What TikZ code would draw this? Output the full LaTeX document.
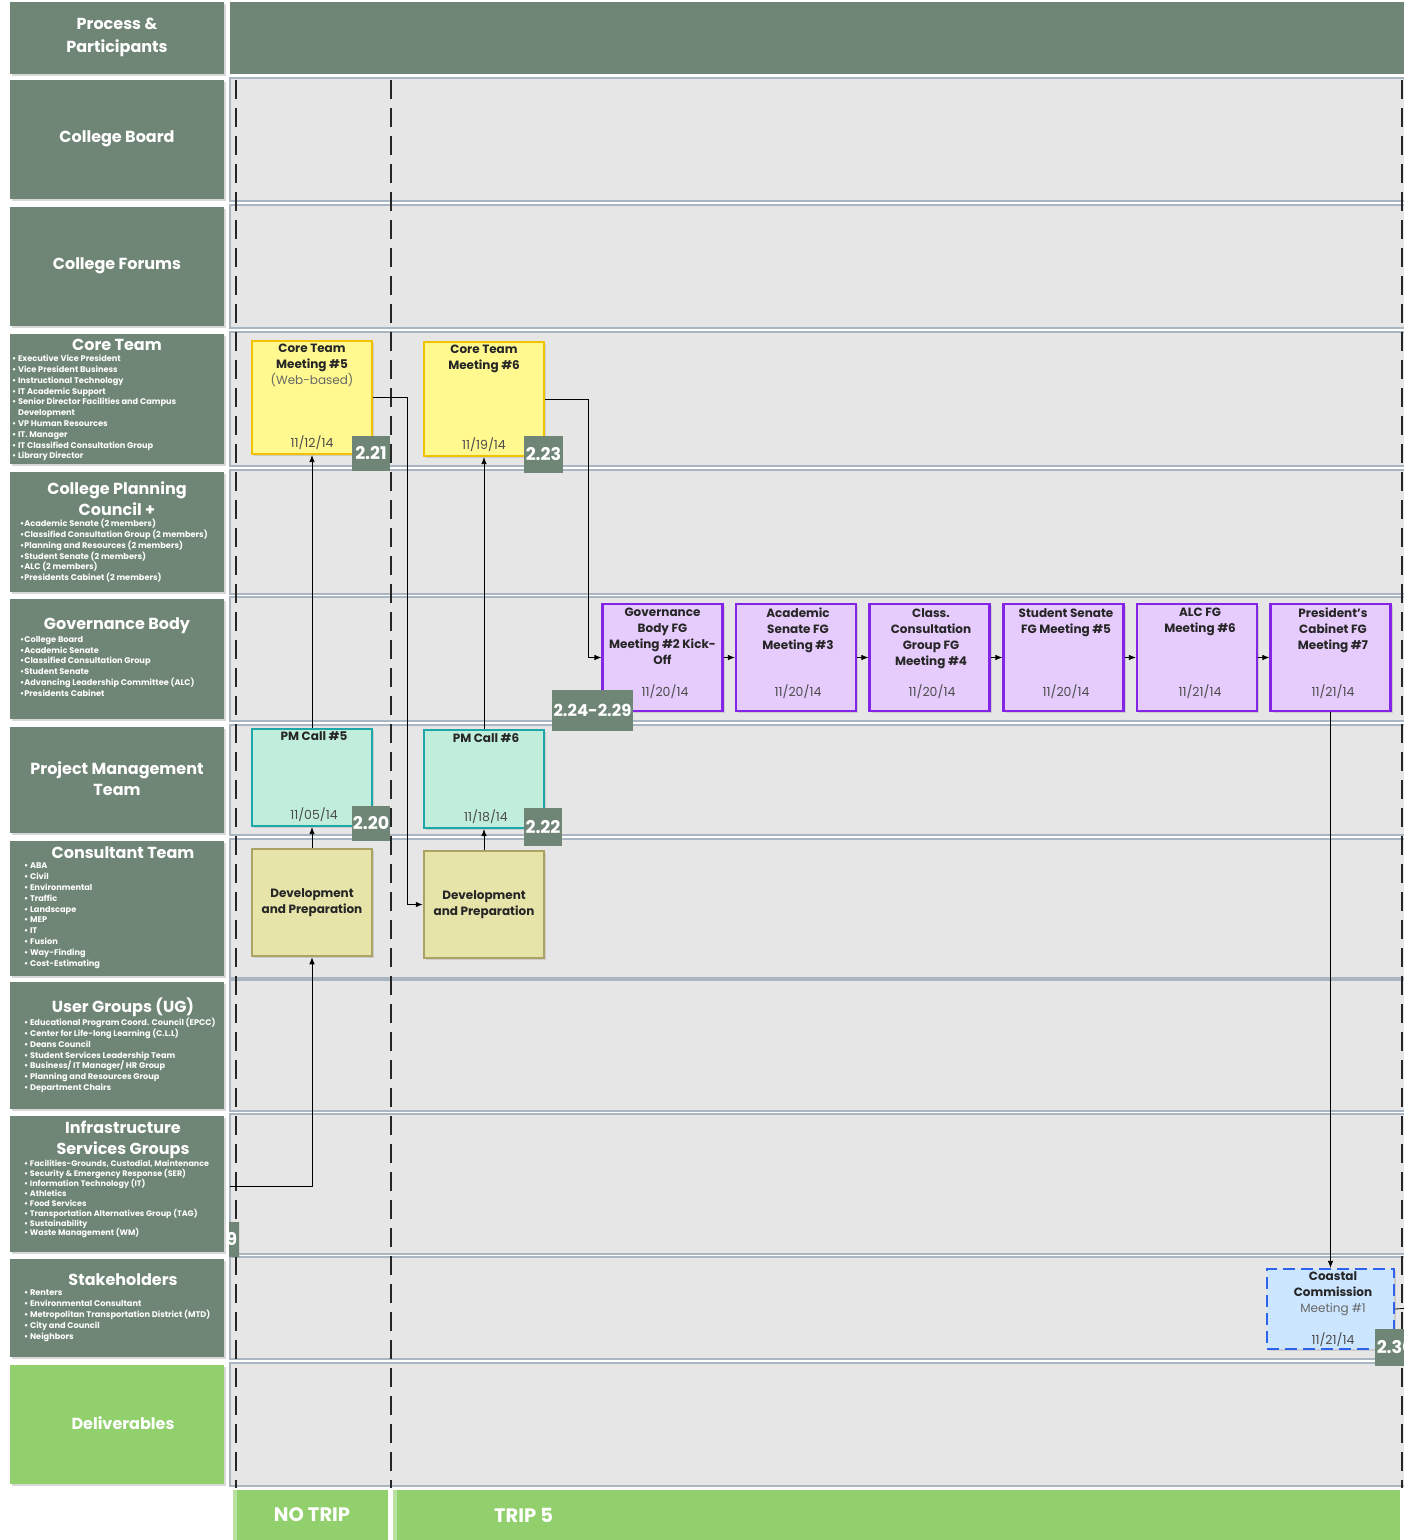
\documentclass[tikz,border=0pt]{standalone}
\usepackage{fontspec}
\setmainfont{Poppins}
\usetikzlibrary{arrows.meta,calc,shadows}
\definecolor{hdr}{HTML}{6F8575}
\definecolor{lanef}{HTML}{E6E6E6}
\definecolor{laneb}{HTML}{A9B5C1}
\definecolor{delg}{HTML}{92D06E}
\definecolor{delgl}{HTML}{B8E2A0}
\definecolor{yfill}{HTML}{FFF98F}
\definecolor{yline}{HTML}{F2C200}
\definecolor{pfill}{HTML}{E6CCFC}
\definecolor{pline}{HTML}{8424E6}
\definecolor{tfill}{HTML}{C1EEDC}
\definecolor{tline}{HTML}{1EA7A7}
\definecolor{kfill}{HTML}{E6E4A8}
\definecolor{kline}{HTML}{ABA264}
\definecolor{bfill}{HTML}{CCE6FF}
\definecolor{bline}{HTML}{2F63EE}
\tikzset{
 lbl/.style={fill=hdr, draw=none, minimum width=214pt, inner sep=0pt, drop shadow={shadow xshift=2pt,shadow yshift=-2pt,opacity=0.3}},
 ttl/.style={text=white, font=\fontsize{16}{21}\selectfont\bfseries, align=center, inner sep=0pt},
 lst/.style={text=white, font=\fontsize{8.2}{10.8}\selectfont\bfseries, align=left, anchor=north west, inner sep=0pt},
 badge/.style={fill=hdr, text=white, font=\fontsize{17.5}{18}\selectfont\bfseries, inner sep=0pt},
 mbox/.style={minimum width=120pt, inner sep=0pt, line width=2.2pt, drop shadow={shadow xshift=2pt,shadow yshift=-2pt,opacity=0.25}},
 ybox/.style={mbox, fill=yfill, draw=yline},
 pbox/.style={mbox, fill=pfill, draw=pline, minimum height=107pt},
 tbox/.style={mbox, fill=tfill, draw=tline},
 kbox/.style={mbox, fill=kfill, draw=kline, line width=2.5pt},
 cbox/.style={mbox, fill=bfill, draw=bline, dash pattern=on 12pt off 6pt},
 btitle/.style={font=\fontsize{12}{16}\selectfont\bfseries, align=center, anchor=north, inner sep=0pt, text=black!85},
 bdate/.style={font=\fontsize{12.5}{14}\selectfont, anchor=center, inner sep=0pt, text=black!70},
 conn/.style={draw=black, line width=0.8pt, -{Latex[length=7pt,width=5.5pt]}},
 lane/.style={fill=lanef, draw=laneb, line width=1.5pt},
 vdash/.style={draw=black!85, line width=1.5pt, dash pattern=on 19pt off 9pt},
}
\begin{document}
\begin{tikzpicture}[x=1pt,y=-1pt]
\useasboundingbox (0,0) rectangle (1404,1540);
\clip (0,0) rectangle (1404,1540);
\fill[white] (0,0) rectangle (1404,1540);
% header lane
\fill[hdr] (230,2) rectangle (1410,74);
% lanes
\foreach \t/\b in {80/199,207/326,334/464,472/592,599/719,727/833,841/976,982/1109,1116/1252,1259/1357,1365/1484}{
  \draw[lane] (230,\t-2) rectangle (1410,\b+2);
}
% dashed verticals
\draw[vdash] (236,80) -- (236,1488);
\draw[vdash] (391,80) -- (391,1488);
\draw[vdash] (1402,80) -- (1402,1488);
% partial badge from previous sheet
\begin{scope}
\clip (229,1215) rectangle (239,1262);
\node[badge, minimum width=46pt, minimum height=35pt] (b219) at (221,1239.5) {2.19};
\end{scope}
% left labels
\node[lbl, minimum height=72pt] (Lhdr) at (117,38) {};
\node[ttl, font=\fontsize{16}{23}\selectfont\bfseries] (Lhdrt) at (117,37) {Process \&\\Participants};
\node[lbl, minimum height=119pt] (Lcb) at (117,139.5) {};
\node[ttl] (Lcbt) at (117,139) {College Board};
\node[lbl, minimum height=119pt] (Lcf) at (117,266.5) {};
\node[ttl] (Lcft) at (117,266) {College Forums};
\node[lbl, minimum height=130pt] (Lct) at (117,399) {};
\node[ttl] (Lctt) at (117,345) {Core Team};
\node[lst] (Lctl) at (12,355) {• Executive Vice President\\• Vice President Business\\• Instructional Technology\\• IT Academic Support\\• Senior Director Facilities and Campus\\\phantom{• }Development\\• VP Human Resources\\• IT. Manager\\• IT Classified Consultation Group\\• Library Director};
\node[lbl, minimum height=120pt] (Lcpc) at (117,532) {};
\node[ttl] (Lcpct) at (117,498.5) {College Planning\\Council +};
\node[lst] (Lcpcl) at (20,519) {•Academic Senate (2 members)\\•Classified Consultation Group (2 members)\\•Planning and Resources (2 members)\\•Student Senate (2 members)\\•ALC (2 members)\\•Presidents Cabinet (2 members)};
\node[lbl, minimum height=120pt] (Lgb) at (117,659) {};
\node[ttl] (Lgbt) at (117,626) {Governance Body};
\node[lst] (Lgbl) at (20,636) {•College Board\\•Academic Senate\\•Classified Consultation Group\\•Student Senate\\•Advancing Leadership Committee (ALC)\\•Presidents Cabinet};
\node[lbl, minimum height=106pt] (Lpm) at (117,780) {};
\node[ttl] (Lpmt) at (117,778.5) {Project Management\\Team};
\node[lbl, minimum height=135pt] (Lcon) at (117,908.5) {};
\node[ttl] (Lcont) at (123,853) {Consultant Team};
\node[lst] (Lconl) at (24,863) {• ABA\\• Civil\\• Environmental\\• Traffic\\• Landscape\\• MEP\\• IT\\• Fusion\\• Way-Finding\\• Cost-Estimating};
\node[lbl, minimum height=127pt] (Lug) at (117,1045.5) {};
\node[ttl] (Lugt) at (123,1007) {User Groups (UG)};
\node[lst] (Lugl) at (24,1018) {• Educational Program Coord. Council (EPCC)\\• Center for Life-long Learning (C.L.L)\\• Deans Council\\• Student Services Leadership Team\\• Business/ IT Manager/ HR Group\\• Planning and Resources Group\\• Department Chairs};
\node[lbl, minimum height=136pt] (Linf) at (117,1184) {};
\node[ttl] (Linft) at (123,1139.5) {Infrastructure\\Services Groups};
\node[lst, font=\fontsize{8}{9.9}\selectfont\bfseries] (Linfl) at (24,1160) {• Facilities-Grounds, Custodial, Maintenance\\• Security \& Emergency Response (SER)\\• Information Technology (IT)\\• Athletics\\• Food Services\\• Transportation Alternatives Group (TAG)\\• Sustainability\\• Waste Management (WM)};
\node[lbl, minimum height=98pt] (Lstk) at (117,1308) {};
\node[ttl] (Lstkt) at (123,1280) {Stakeholders};
\node[lst] (Lstkl) at (24,1290) {• Renters\\• Environmental Consultant\\• Metropolitan Transportation District (MTD)\\• City and Council\\• Neighbors};
\node[lbl, fill=delg, minimum height=119pt] (Ldel) at (117,1424.5) {};
\node[ttl] (Ldelt) at (123,1423) {Deliverables};
% bottom trip bars
\fill[delg] (233,1490) rectangle (388,1545);
\fill[delgl] (233,1490) rectangle (237,1545);
\fill[delg] (393,1490) rectangle (1400,1545);
\fill[delgl] (393,1490) rectangle (397,1545);
\node[ttl, font=\fontsize{19.5}{22}\selectfont\bfseries] (notrip) at (312,1515) {NO TRIP};
\node[ttl, font=\fontsize{19.5}{22}\selectfont\bfseries, anchor=west] (trip5) at (494,1515) {TRIP 5};
% core team meetings
\node[ybox, minimum height=113pt] (ct5) at (312,397.5) {};
\node[btitle] (ct5t) at (312,344) {Core Team\\Meeting \#5\\\mdseries\color{black!60}(Web-based)};
\node[bdate] (ct5d) at (312,443) {11/12/14};
\node[ybox, minimum height=114pt] (ct6) at (484,399) {};
\node[btitle] (ct6t) at (484,345) {Core Team\\Meeting \#6};
\node[bdate] (ct6d) at (484,445) {11/19/14};
% governance focus groups
\node[pbox] (g1) at (662.5,657.5) {};
\node[btitle] (g1t) at (662.5,608) {Governance\\Body FG\\Meeting \#2 Kick-\\Off};
\node[bdate] (g1d) at (665,692) {11/20/14};
\node[pbox] (g2) at (796,657.5) {};
\node[btitle] (g2t) at (798,608) {Academic\\Senate FG\\Meeting \#3};
\node[bdate] (g2d) at (798,692) {11/20/14};
\node[pbox] (g3) at (929.5,657.5) {};
\node[btitle] (g3t) at (931,608) {Class.\\Consultation\\Group FG\\Meeting \#4};
\node[bdate] (g3d) at (932,692) {11/20/14};
\node[pbox] (g4) at (1063.5,657.5) {};
\node[btitle] (g4t) at (1066,608) {Student Senate\\FG Meeting \#5};
\node[bdate] (g4d) at (1066,692) {11/20/14};
\node[pbox] (g5) at (1197,657.5) {};
\node[btitle] (g5t) at (1200,608) {ALC FG\\Meeting \#6};
\node[bdate] (g5d) at (1200,692) {11/21/14};
\node[pbox] (g6) at (1330.5,657.5) {};
\node[btitle] (g6t) at (1333,608) {President’s\\Cabinet FG\\Meeting \#7};
\node[bdate] (g6d) at (1333,692) {11/21/14};
% PM calls
\node[tbox, minimum height=97pt] (pm5) at (312,777.5) {};
\node[btitle] (pm5t) at (314,731.5) {PM Call \#5};
\node[bdate] (pm5d) at (314,815) {11/05/14};
\node[tbox, minimum height=98pt] (pm6) at (484,779) {};
\node[btitle] (pm6t) at (486,733) {PM Call \#6};
\node[bdate] (pm6d) at (486,817) {11/18/14};
% development and preparation
\node[kbox, minimum height=107pt, font=\fontsize{12}{16}\selectfont\bfseries, align=center, text=black!85] (dp1) at (312,902.5) {Development\\and Preparation};
\node[kbox, minimum height=107pt, font=\fontsize{12}{16}\selectfont\bfseries, align=center, text=black!85] (dp2) at (484,904.5) {Development\\and Preparation};
% coastal commission
\node[cbox, minimum width=127pt, minimum height=80pt] (cc) at (1330.5,1309) {};
\node[btitle] (cct) at (1333,1271) {Coastal\\Commission\\\mdseries\color{black!60}Meeting \#1};
\node[bdate] (ccd) at (1333,1340) {11/21/14};
% badges
\node[badge, minimum width=38pt, minimum height=35pt] (b221) at (371,453.5) {2.21};
\node[badge, minimum width=39pt, minimum height=37pt] (b223) at (543.5,454.5) {2.23};
\node[badge, minimum width=38pt, minimum height=35pt] (b220) at (371,823.5) {2.20};
\node[badge, minimum width=38pt, minimum height=38pt] (b222) at (543,827) {2.22};
\node[badge, minimum width=81pt, minimum height=41pt, font=\fontsize{16.5}{18}\selectfont\bfseries] (b224) at (592.5,710.5) {2.24-2.29};
\node[badge, minimum width=40pt, minimum height=37pt, anchor=west] (b230) at (1375,1347.5) {2.30};
% connectors
\coordinate (infin) at (230,1186);
\coordinate (ccout) at (1410,1308);
\draw[conn] (ct5.east) -- ++(34,0) |- (dp2.west);
\draw[conn] (ct6.east) -- ++(43,0) |- (g1.west);
\draw[conn] (g1) -- (g2);
\draw[conn] (g2) -- (g3);
\draw[conn] (g3) -- (g4);
\draw[conn] (g4) -- (g5);
\draw[conn] (g5) -- (g6);
\draw[conn] (pm5.north) -- (ct5.south);
\draw[conn] (pm6.north) -- (ct6.south);
\draw[conn] (dp1.north) -- (pm5.south);
\draw[conn] (dp2.north) -- (pm6.south);
\draw[conn] (infin) -| (dp1.south);
\draw[conn] (g6.south) -- (cc.north);
\draw[draw=black, line width=0.8pt] (cc.east) -- (ccout);
\end{tikzpicture}
\end{document}
